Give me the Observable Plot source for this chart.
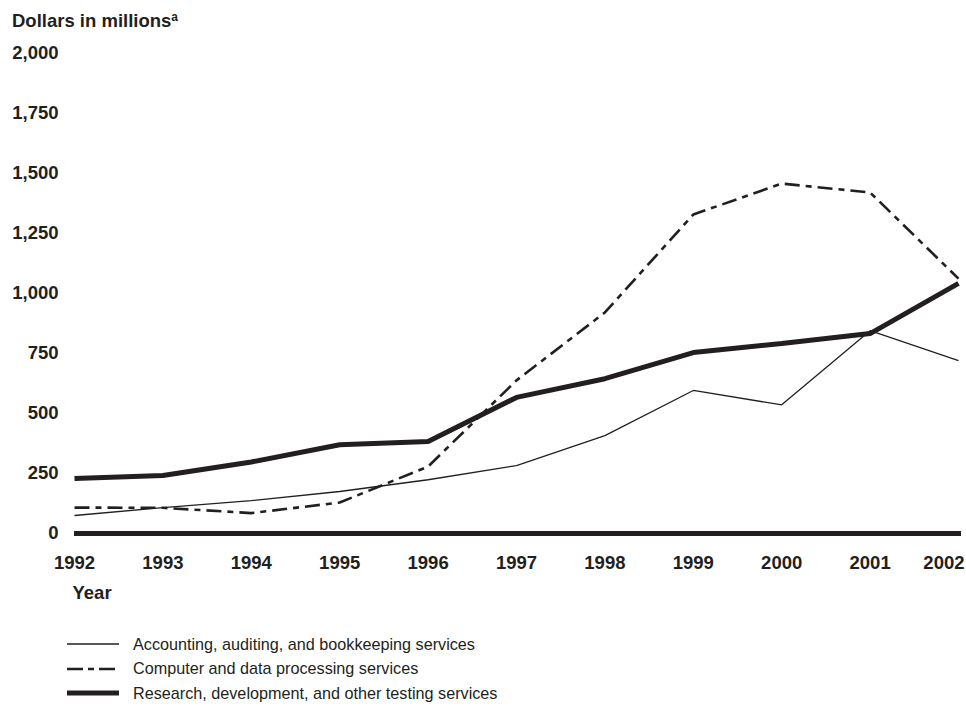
<!DOCTYPE html>
<html>
<head>
<meta charset="utf-8">
<script src="https://cdn.jsdelivr.net/npm/d3@7"></script>
<script src="https://cdn.jsdelivr.net/npm/@observablehq/plot@0.6"></script>
<style>
  html, body { margin: 0; padding: 0; background: #fff; }
  #wrap { position: relative; width: 966px; height: 706px; font-family: "Liberation Sans", Arial, sans-serif; color: #231f20; }
  #title { position: absolute; left: 12px; top: 10px; font-weight: bold; font-size: 18.5px; line-height: 22px; }
  #title sup { font-size: 12px; vertical-align: 6px; line-height: 0; }
  #chart { position: absolute; left: 0; top: 40px; }
  #legend { position: absolute; left: 67px; top: 632px; font-size: 16.2px; }
  .row { display: flex; align-items: center; height: 24.5px; }
  .row svg { margin-right: 14px; }
</style>
</head>
<body>
<div id="wrap">
  <div id="title">Dollars in millions<sup>a</sup></div>
  <div id="chart"></div>
  <div id="legend"></div>
</div>
<script>
const years = [1992, 1993, 1994, 1995, 1996, 1997, 1998, 1999, 2000, 2001, 2002];
const accounting = [75, 108, 137, 175, 224, 283, 408, 596, 536, 845, 720];
const computer = [108, 107, 85, 129, 279, 638, 921, 1329, 1458, 1421, 1062];
const research = [229, 242, 298, 370, 383, 567, 645, 754, 792, 833, 1042];
const seriesNames = [
  "Accounting, auditing, and bookkeeping services",
  "Computer and data processing services",
  "Research, development, and other testing services"
];
const yTicks = [0, 250, 500, 750, 1000, 1250, 1500, 1750, 2000];

const styles = [
  {strokeWidth: 1.3, dash: null},
  {strokeWidth: 2.6, dash: "15,6,6,6"},
  {strokeWidth: 5, dash: null}
];
const ink = "#231f20";

const allSeries = [accounting, computer, research];
const rows = [];
allSeries.forEach((vals, i) => years.forEach((y, j) => rows.push({series: seriesNames[i], year: y, value: vals[j]})));

const lineMarks = seriesNames.map((name, i) => Plot.line(rows.filter(d => d.series === name), {
  x: "year", y: "value", stroke: ink, strokeWidth: styles[i].strokeWidth,
  strokeDasharray: styles[i].dash, strokeLinejoin: "miter", strokeLinecap: "butt"
}));

const lastYear = years[years.length - 1];
const chart = Plot.plot({
  width: 966,
  height: 570,
  marginLeft: 74,
  marginRight: 8,
  marginTop: 13,
  marginBottom: 77,
  style: {fontFamily: "Liberation Sans, Arial, sans-serif", fontSize: "18.5px", fontWeight: "bold", color: ink, background: "#fff"},
  x: {domain: [1992, 2002], label: null, axis: null},
  y: {domain: [0, 2000], ticks: yTicks, tickFormat: d3.format(","), tickSize: 0, tickPadding: 16, label: null},
  marks: [
    Plot.axisX(years.slice(0, -1), {tickFormat: d => String(d), tickSize: 0, tickPadding: 22, label: null}),
    Plot.axisX([lastYear], {tickFormat: d => String(d), tickSize: 0, tickPadding: 22, label: null, textAnchor: "end", dx: 6}),
    ...lineMarks,
    Plot.ruleY([0], {stroke: ink, strokeWidth: 5, insetRight: -3}),
    Plot.text(["Year"], {frameAnchor: "bottom-left", dx: -2, dy: 65, text: d => d, textAnchor: "start", fontWeight: "bold", fontSize: 18.5, fill: ink})
  ]
});
document.getElementById("chart").appendChild(chart);

const legend = document.getElementById("legend");
seriesNames.forEach((name, i) => {
  const row = document.createElement("div");
  row.className = "row";
  const dash = i === 1 ? "16,5,6,5" : "none";
  row.innerHTML = `<svg width="52" height="10"><line x1="0" x2="52" y1="5" y2="5" stroke="${ink}" stroke-width="${styles[i].strokeWidth}" stroke-dasharray="${dash}"/></svg><span>${name}</span>`;
  legend.appendChild(row);
});
</script>
</body>
</html>
